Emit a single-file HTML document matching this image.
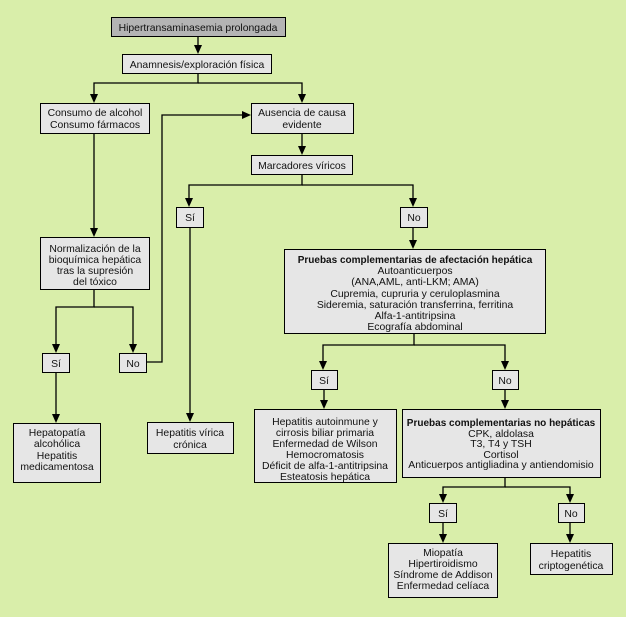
<!DOCTYPE html>
<html><head><meta charset="utf-8"><style>
html,body{margin:0;padding:0;background:#d9eeaa;}
svg{display:block;font-family:"Liberation Sans",Arial,sans-serif;font-size:10.4px;}
rect{stroke:#000;stroke-width:1;fill:#e6e6e6;}
line,polyline{stroke:#000;stroke-width:1.3;fill:none;}
polygon{fill:#000;}
text{fill:#111;text-anchor:middle;}
.b{font-weight:bold;font-size:10px;}
</style></head><body>
<svg width="626" height="617" viewBox="0 0 626 617">
<rect x="0" y="0" width="626" height="617" style="fill:#d9eeaa;stroke:none"/>
<rect x="111.5" y="17.5" width="174" height="19" style="fill:#b4b4b4"/>
<text x="198" y="31">Hipertransaminasemia prolongada</text>
<rect x="122.5" y="54.5" width="149" height="19"/>
<text x="197" y="68">Anamnesis/exploración física</text>
<rect x="40.5" y="103.5" width="109" height="30"/>
<text x="95" y="116">Consumo de alcohol</text><text x="95" y="128">Consumo fármacos</text>
<rect x="251.5" y="103.5" width="102" height="30"/>
<text x="302" y="116">Ausencia de causa</text><text x="302" y="128">evidente</text>
<rect x="251.5" y="155.5" width="101" height="19"/>
<text x="302" y="169">Marcadores víricos</text>
<rect x="176.5" y="207.5" width="27" height="20"/><text x="190" y="221">Sí</text>
<rect x="400.5" y="207.5" width="27" height="20"/><text x="414" y="221">No</text>
<rect x="40.5" y="237.5" width="109" height="52"/>
<text x="95" y="252">Normalización de la</text><text x="95" y="263">bioquímica hepática</text><text x="95" y="274">tras la supresión</text><text x="95" y="285">del tóxico</text>
<rect x="42.5" y="353.5" width="27" height="19"/><text x="56" y="367">Sí</text>
<rect x="119.5" y="353.5" width="27" height="19"/><text x="133" y="367">No</text>
<rect x="13.5" y="423.5" width="87" height="59"/>
<text x="57" y="436">Hepatopatía</text><text x="57" y="447">alcohólica</text><text x="57" y="459">Hepatitis</text><text x="57" y="470">medicamentosa</text>
<rect x="147.5" y="422.5" width="86" height="31"/>
<text x="190" y="436">Hepatitis  vírica</text><text x="190" y="448">crónica</text>
<rect x="284.5" y="249.5" width="261" height="84"/>
<text x="415" y="263" class="b">Pruebas complementarias de afectación hepática</text>
<text x="415" y="274">Autoanticuerpos</text>
<text x="415" y="285">(ANA,AML, anti-LKM; AMA)</text>
<text x="415" y="297">Cupremia, cupruria y ceruloplasmina</text>
<text x="415" y="308">Sideremia, saturación transferrina, ferritina</text>
<text x="415" y="319">Alfa-1-antitripsina</text>
<text x="415" y="330">Ecografía abdominal</text>
<rect x="311.5" y="370.5" width="26" height="19"/><text x="324" y="384">Sí</text>
<rect x="492.5" y="370.5" width="26" height="19"/><text x="505" y="384">No</text>
<rect x="254.5" y="409.5" width="142" height="73"/>
<text x="325" y="425">Hepatitis autoinmune y</text><text x="325" y="436">cirrosis biliar primaria</text><text x="325" y="447">Enfermedad de Wilson</text><text x="325" y="458">Hemocromatosis</text><text x="325" y="469">Déficit de alfa-1-antitripsina</text><text x="325" y="480">Esteatosis hepática</text>
<rect x="402.5" y="409.5" width="198" height="68"/>
<text x="501" y="426" class="b">Pruebas complementarias no hepáticas</text>
<text x="501" y="437">CPK, aldolasa</text><text x="501" y="447">T3, T4 y TSH</text><text x="501" y="458">Cortisol</text><text x="501" y="468">Anticuerpos antigliadina y antiendomisio</text>
<rect x="429.5" y="503.5" width="27" height="19"/><text x="443" y="517">Sí</text>
<rect x="558.5" y="503.5" width="26" height="19"/><text x="571" y="517">No</text>
<rect x="388.5" y="543.5" width="109" height="54"/>
<text x="443" y="556">Miopatía</text><text x="443" y="567">Hipertiroidismo</text><text x="443" y="578">Síndrome de Addison</text><text x="443" y="589">Enfermedad celíaca</text>
<rect x="530.5" y="543.5" width="82" height="31"/>
<text x="571" y="557">Hepatitis</text><text x="571" y="569">criptogenética</text>
<line x1="198" y1="37" x2="198" y2="46"/><polygon points="194,45 202,45 198,54"/>
<polyline points="198,74 198,83 94,83 94,95"/><polygon points="90,94 98,94 94,103"/>
<polyline points="198,83 302,83 302,95"/><polygon points="298,94 306,94 302,103"/>
<line x1="302" y1="134" x2="302" y2="147"/><polygon points="298,146 306,146 302,155"/>
<polyline points="302,175 302,185 189,185 189,199"/><polygon points="185,198 193,198 189,207"/>
<polyline points="302,185 413,185 413,199"/><polygon points="409,198 417,198 413,207"/>
<line x1="94" y1="134" x2="94" y2="229"/><polygon points="90,228 98,228 94,237"/>
<polyline points="94,290 94,307 56,307 56,345"/><polygon points="52,344 60,344 56,353"/>
<polyline points="94,307 133,307 133,345"/><polygon points="129,344 137,344 133,353"/>
<polyline points="147,362 162,362 162,115 243,115"/><polygon points="242,111 242,119 251,115"/>
<line x1="56" y1="373" x2="56" y2="415"/><polygon points="52,414 60,414 56,423"/>
<line x1="190" y1="228" x2="190" y2="414"/><polygon points="186,413 194,413 190,422"/>
<line x1="413" y1="228" x2="413" y2="241"/><polygon points="409,240 417,240 413,249"/>
<polyline points="414,334 414,345 323,345 323,362"/><polygon points="319,361 327,361 323,370"/>
<polyline points="414,345 505,345 505,362"/><polygon points="501,361 509,361 505,370"/>
<line x1="324" y1="390" x2="324" y2="401"/><polygon points="320,400 328,400 324,409"/>
<line x1="505" y1="390" x2="505" y2="401"/><polygon points="501,400 509,400 505,409"/>
<polyline points="505,478 505,487 443,487 443,495"/><polygon points="439,494 447,494 443,503"/>
<polyline points="505,487 570,487 570,495"/><polygon points="566,494 574,494 570,503"/>
<line x1="443" y1="523" x2="443" y2="535"/><polygon points="439,534 447,534 443,543"/>
<line x1="570" y1="523" x2="570" y2="535"/><polygon points="566,534 574,534 570,543"/>
</svg>
</body></html>
